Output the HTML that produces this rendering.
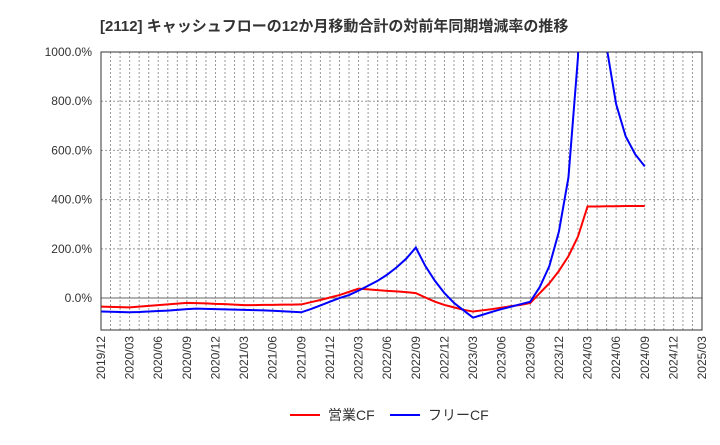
<!DOCTYPE html>
<html><head><meta charset="utf-8"><style>
body{margin:0;background:#fff;font-family:"Liberation Sans","Noto Sans CJK JP",sans-serif;}
svg text{font-family:"Liberation Sans","Noto Sans CJK JP",sans-serif;}
</style></head><body>
<svg id="c" width="720" height="440" xmlns="http://www.w3.org/2000/svg">
<text x="100" y="31" font-size="15" font-weight="bold" fill="#333">[2112]  キャッシュフローの12か月移動合計の対前年同期増減率の推移</text>
<defs><clipPath id="pc"><rect x="101" y="52" width="601" height="278"/></clipPath></defs>
<g id="grid"></g>
<g id="series" clip-path="url(#pc)"></g>
<rect x="101" y="52" width="601" height="278" fill="none" stroke="#333" stroke-width="1"/>
<g id="axes"></g>
<g>
<line x1="290" y1="415" x2="320" y2="415" stroke="#f00" stroke-width="2"/>
<text x="328" y="420" font-size="14" fill="#333">営業CF</text>
<line x1="390" y1="415" x2="420" y2="415" stroke="#00f" stroke-width="2"/>
<text x="428" y="420" font-size="14" fill="#333">フリーCF</text>
</g>
</svg>
<script>
const xTickLabels=["2019/12","2020/03","2020/06","2020/09","2020/12","2021/03","2021/06","2021/09","2021/12","2022/03","2022/06","2022/09","2022/12","2023/03","2023/06","2023/09","2023/12","2024/03","2024/06","2024/09","2024/12","2025/03"];
const yTicks=[0,200,400,600,800,1000];
const operatingCF=[-35,-36,-37,-38,-35,-32,-29,-26,-23,-20,-21,-22,-24,-25,-27,-29,-29,-28,-28,-27,-27,-26,-17,-8,2,12,25,38,35,32,29,27,24,20,2,-15,-28,-38,-48,-55,-50,-45,-39,-33,-28,-20,20,60,110,170,250,372,372,373,373,374,374,374];
const freeCF=[-55,-56,-57,-58,-57,-55,-53,-51,-48,-45,-43,-44,-45,-46,-47,-48,-49,-50,-52,-54,-56,-58,-45,-30,-15,0,12,30,50,70,95,125,160,205,130,70,20,-20,-50,-80,-68,-56,-45,-35,-25,-15,45,130,270,490,980,3500,3500,1020,788,657,584,535];
const X0=101,X1=702,Y0=330,Y1=52,MONTHS=63,YMIN=-130,YMAX=1000;
const xs=i=>X0+(X1-X0)*i/MONTHS;
const ys=v=>Y0-(v-YMIN)/(YMAX-YMIN)*(Y0-Y1);
const NS="http://www.w3.org/2000/svg";
const grid=document.getElementById('grid'),axes=document.getElementById('axes'),series=document.getElementById('series');
for(let m=1;m<MONTHS;m++){
 const l=document.createElementNS(NS,'line');
 
 
 l.setAttribute('x1',xs(m));l.setAttribute('x2',xs(m));l.setAttribute('y1',Y1);l.setAttribute('y2',Y0);
 l.setAttribute('stroke','#999');l.setAttribute('stroke-dasharray','2,2');l.setAttribute('stroke-width','1');
 grid.appendChild(l);
}
yTicks.forEach(v=>{
 const l=document.createElementNS(NS,'line');
 
 
 l.setAttribute('x1',X0);l.setAttribute('x2',X1);l.setAttribute('y1',ys(v));l.setAttribute('y2',ys(v));
 l.setAttribute('stroke',v===0?'#666':'#999');if(v!==0)l.setAttribute('stroke-dasharray','2,2');
 grid.appendChild(l);
 const t=document.createElementNS(NS,'text');
 
 
 t.setAttribute('x',92);t.setAttribute('y',ys(v)+4);t.setAttribute('text-anchor','end');t.setAttribute('font-size','12');t.setAttribute('fill','#333');
 t.textContent=v.toFixed(1)+'%';axes.appendChild(t);
});
xTickLabels.forEach((s,i)=>{
 const x=xs(i*3);
 const t=document.createElementNS(NS,'text');
 
 
 t.setAttribute('transform','translate('+(x+4)+',336) rotate(-90)');t.setAttribute('text-anchor','end');t.setAttribute('font-size','12');t.setAttribute('fill','#333');
 t.textContent=s;axes.appendChild(t);
});
function draw(arr,color,name){
 const p=document.createElementNS(NS,'polyline');
 
 
 p.setAttribute('points',arr.map((v,i)=>xs(i)+','+ys(v)).join(' '));
 p.setAttribute('fill','none');p.setAttribute('stroke',color);p.setAttribute('stroke-width','2');
 series.appendChild(p);
}
draw(operatingCF,'#f00','operating-cf-line');
draw(freeCF,'#00f','free-cf-line');
</script>
</body></html>
